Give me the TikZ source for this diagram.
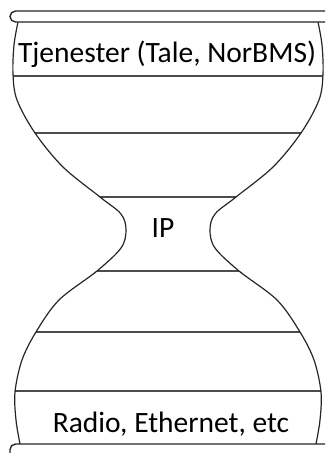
\documentclass[tikz,border=0pt]{standalone}
\usepackage{fontspec}
\setmainfont{Carlito}
\begin{document}
\begin{tikzpicture}[x=1pt,y=-1pt,
  outline/.style={line width=1.2pt,black!85},
  layer/.style={line width=1.3pt,black!70},
  bar/.style={line width=1.4pt,black!85,rounded corners=5.5pt},
  lbl/.style={anchor=base,inner sep=0pt,font=\fontsize{29.5}{35}\selectfont}]
\useasboundingbox (0,0) rectangle (325,453);
\clip (0,0) rectangle (325,453);
\def\leftside{(18,22) (14,45) (13,74) (17,100) (35,133) (63,167) (100,197) (121,214) (126,230) (121,248) (97,271) (59,300) (36,332) (22,360) (15,392) (16,420) (20,444)}
\def\rightside{(316,444) (320,420) (321,392) (314,360) (300,332) (277,300) (239,271) (215,248) (210,230) (215,214) (236,197) (273,167) (301,133) (319,100) (323,74) (322,45) (318,22)}
\begin{scope}
  \clip plot[smooth,tension=0.55] coordinates {\leftside} -- plot[smooth,tension=0.55] coordinates {\rightside} -- cycle;
  \foreach \yy in {76,133,197,271,332,391}
    \draw[layer] (0,\yy) -- (340,\yy);
\end{scope}
\draw[outline] plot[smooth,tension=0.55] coordinates {\leftside};
\draw[outline] plot[smooth,tension=0.55] coordinates {\rightside};
\draw[bar,fill=white] (10,11) rectangle (345,22);
\draw[bar,fill=white] (10,444) rectangle (345,460);
\node[lbl] (tjen) at (167,62) {Tjenester (Tale, NorBMS)};
\node[lbl] (ip) at (163,237) {IP};
\node[lbl] (radio) at (171,432) {Radio, Ethernet, etc};
\end{tikzpicture}
\end{document}
